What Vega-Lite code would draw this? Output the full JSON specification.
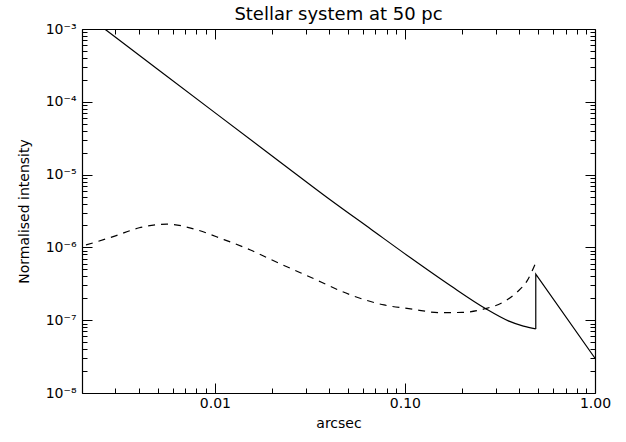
{
  "$schema": "https://vega.github.io/schema/vega-lite/v6.json",
  "width": 513,
  "height": 364,
  "autosize": "none",
  "padding": {"left": 82, "top": 29, "right": 31, "bottom": 49},
  "background": "white",
  "config": {
    "view": {"stroke": null},
    "font": "DejaVu Sans",
    "axis": {
      "grid": false,
      "domainColor": "black",
      "domainWidth": 1.2,
      "tickColor": "black",
      "tickWidth": 1,
      "labelColor": "black",
      "labelFontSize": 14,
      "labelFont": "DejaVu Sans",
      "titleFont": "DejaVu Sans",
      "titleFontSize": 14,
      "titleFontWeight": "normal",
      "titleColor": "black",
      "labelFlush": false,
      "labelOverlap": false,
      "labelBound": false
    }
  },
  "title": {
    "text": "Stellar system at 50 pc",
    "fontSize": 18,
    "fontWeight": "normal",
    "font": "DejaVu Sans",
    "color": "black",
    "frame": "group",
    "anchor": "middle",
    "offset": -2
  },
  "datasets": {
    "solid": [
      {"x": 0.00263, "y": 1.0e-3, "o": 1},
      {"x": 0.005, "y": 2.8e-4, "o": 2},
      {"x": 0.01, "y": 7.1e-5, "o": 3},
      {"x": 0.0222, "y": 1.47e-5, "o": 4},
      {"x": 0.0406, "y": 4.48e-6, "o": 5},
      {"x": 0.066, "y": 1.79e-6, "o": 6},
      {"x": 0.107, "y": 7.2e-7, "o": 7},
      {"x": 0.174, "y": 2.97e-7, "o": 8},
      {"x": 0.265, "y": 1.45e-7, "o": 9},
      {"x": 0.35, "y": 9.8e-8, "o": 10},
      {"x": 0.42, "y": 8.3e-8, "o": 11},
      {"x": 0.488, "y": 7.6e-8, "o": 12}
    ],
    "solidtail": [
      {"x": 0.488, "y": 7.6e-8, "o": 1},
      {"x": 0.488, "y": 4.3e-7, "o": 2},
      {"x": 1.0, "y": 3.0e-8, "o": 3}
    ],
    "dashed": [
      {"x": 0.0021, "y": 1.08e-6},
      {"x": 0.003, "y": 1.44e-6},
      {"x": 0.004, "y": 1.86e-6},
      {"x": 0.0056, "y": 2.09e-6},
      {"x": 0.008, "y": 1.75e-6},
      {"x": 0.011, "y": 1.30e-6},
      {"x": 0.0154, "y": 9.2e-7},
      {"x": 0.02, "y": 6.7e-7},
      {"x": 0.03, "y": 4.18e-7},
      {"x": 0.055, "y": 2.1e-7},
      {"x": 0.0776, "y": 1.62e-7},
      {"x": 0.107, "y": 1.43e-7},
      {"x": 0.154, "y": 1.27e-7},
      {"x": 0.2, "y": 1.28e-7},
      {"x": 0.265, "y": 1.44e-7},
      {"x": 0.33, "y": 1.78e-7},
      {"x": 0.39, "y": 2.45e-7},
      {"x": 0.44, "y": 3.5e-7},
      {"x": 0.488, "y": 6.2e-7}
    ]
  },
  "layer": [
    {
      "data": {"name": "solid"},
      "mark": {"type": "line", "color": "black", "strokeWidth": 1.2, "clip": true, "interpolate": "monotone"},
      "encoding": {
        "x": {
          "field": "x", "type": "quantitative",
          "scale": {"type": "log", "domain": [0.002, 1], "nice": false},
          "axis": {
            "orient": "bottom",
            "title": "arcsec",
            "titlePadding": 1,
            "values": [0.002,0.003,0.004,0.005,0.006,0.007,0.008,0.009,0.01,0.02,0.03,0.04,0.05,0.06,0.07,0.08,0.09,0.1,0.2,0.3,0.4,0.5,0.6,0.7,0.8,0.9,1],
            "labelExpr": "indexof([0.01,0.1,1], datum.value) >= 0 ? format(datum.value, '.2f') : ''",
            "tickSize": {"condition": {"test": "indexof([0.01,0.1,1], datum.value) >= 0", "value": -10}, "value": -5},
            "labelPadding": 13
          }
        },
        "y": {
          "field": "y", "type": "quantitative",
          "scale": {"type": "log", "domain": [1e-8, 1e-3], "nice": false},
          "axis": {
            "orient": "left",
            "title": "Normalised intensity",
            "titlePadding": 14,
            "values": [1e-8,2e-8,3e-8,4e-8,5e-8,6e-8,7e-8,8e-8,9e-8,1e-7,2e-7,3e-7,4e-7,5e-7,6e-7,7e-7,8e-7,9e-7,1e-6,2e-6,3e-6,4e-6,5e-6,6e-6,7e-6,8e-6,9e-6,1e-5,2e-5,3e-5,4e-5,5e-5,6e-5,7e-5,8e-5,9e-5,1e-4,2e-4,3e-4,4e-4,5e-4,6e-4,7e-4,8e-4,9e-4,1e-3],
            "labelExpr": "datum.value == 1e-3 ? '10⁻³' : datum.value == 1e-4 ? '10⁻⁴' : datum.value == 1e-5 ? '10⁻⁵' : datum.value == 1e-6 ? '10⁻⁶' : datum.value == 1e-7 ? '10⁻⁷' : datum.value == 1e-8 ? '10⁻⁸' : ''",
            "tickSize": {"condition": {"test": "indexof([1e-8,1e-7,1e-6,1e-5,1e-4,1e-3], datum.value) >= 0", "value": -10}, "value": -5},
            "labelPadding": 16
          }
        },
        "order": {"field": "o", "type": "quantitative"}
      }
    },
    {
      "data": {"name": "dashed"},
      "mark": {"type": "line", "color": "black", "strokeWidth": 1.2, "strokeDash": [7, 6], "interpolate": "monotone", "clip": true},
      "encoding": {
        "x": {
          "field": "x", "type": "quantitative",
          "scale": {"type": "log", "domain": [0.002, 1], "nice": false},
          "axis": {
            "orient": "top",
            "title": null,
            "labels": false,
            "values": [0.002,0.003,0.004,0.005,0.006,0.007,0.008,0.009,0.01,0.02,0.03,0.04,0.05,0.06,0.07,0.08,0.09,0.1,0.2,0.3,0.4,0.5,0.6,0.7,0.8,0.9,1],
            "tickSize": {"condition": {"test": "indexof([0.01,0.1,1], datum.value) >= 0", "value": -10}, "value": -5}
          }
        },
        "y": {
          "field": "y", "type": "quantitative",
          "scale": {"type": "log", "domain": [1e-8, 1e-3], "nice": false},
          "axis": {
            "orient": "right",
            "title": null,
            "labels": false,
            "values": [1e-8,2e-8,3e-8,4e-8,5e-8,6e-8,7e-8,8e-8,9e-8,1e-7,2e-7,3e-7,4e-7,5e-7,6e-7,7e-7,8e-7,9e-7,1e-6,2e-6,3e-6,4e-6,5e-6,6e-6,7e-6,8e-6,9e-6,1e-5,2e-5,3e-5,4e-5,5e-5,6e-5,7e-5,8e-5,9e-5,1e-4,2e-4,3e-4,4e-4,5e-4,6e-4,7e-4,8e-4,9e-4,1e-3],
            "tickSize": {"condition": {"test": "indexof([1e-8,1e-7,1e-6,1e-5,1e-4,1e-3], datum.value) >= 0", "value": -10}, "value": -5}
          }
        }
      }
    },
    {
      "data": {"name": "solidtail"},
      "mark": {"type": "line", "color": "black", "strokeWidth": 1.2, "clip": true},
      "encoding": {
        "x": {"field": "x", "type": "quantitative", "scale": {"type": "log", "domain": [0.002, 1], "nice": false}, "axis": null},
        "y": {"field": "y", "type": "quantitative", "scale": {"type": "log", "domain": [1e-8, 1e-3], "nice": false}, "axis": null},
        "order": {"field": "o", "type": "quantitative"}
      }
    }
  ],
  "resolve": {"axis": {"x": "independent", "y": "independent"}}
}
